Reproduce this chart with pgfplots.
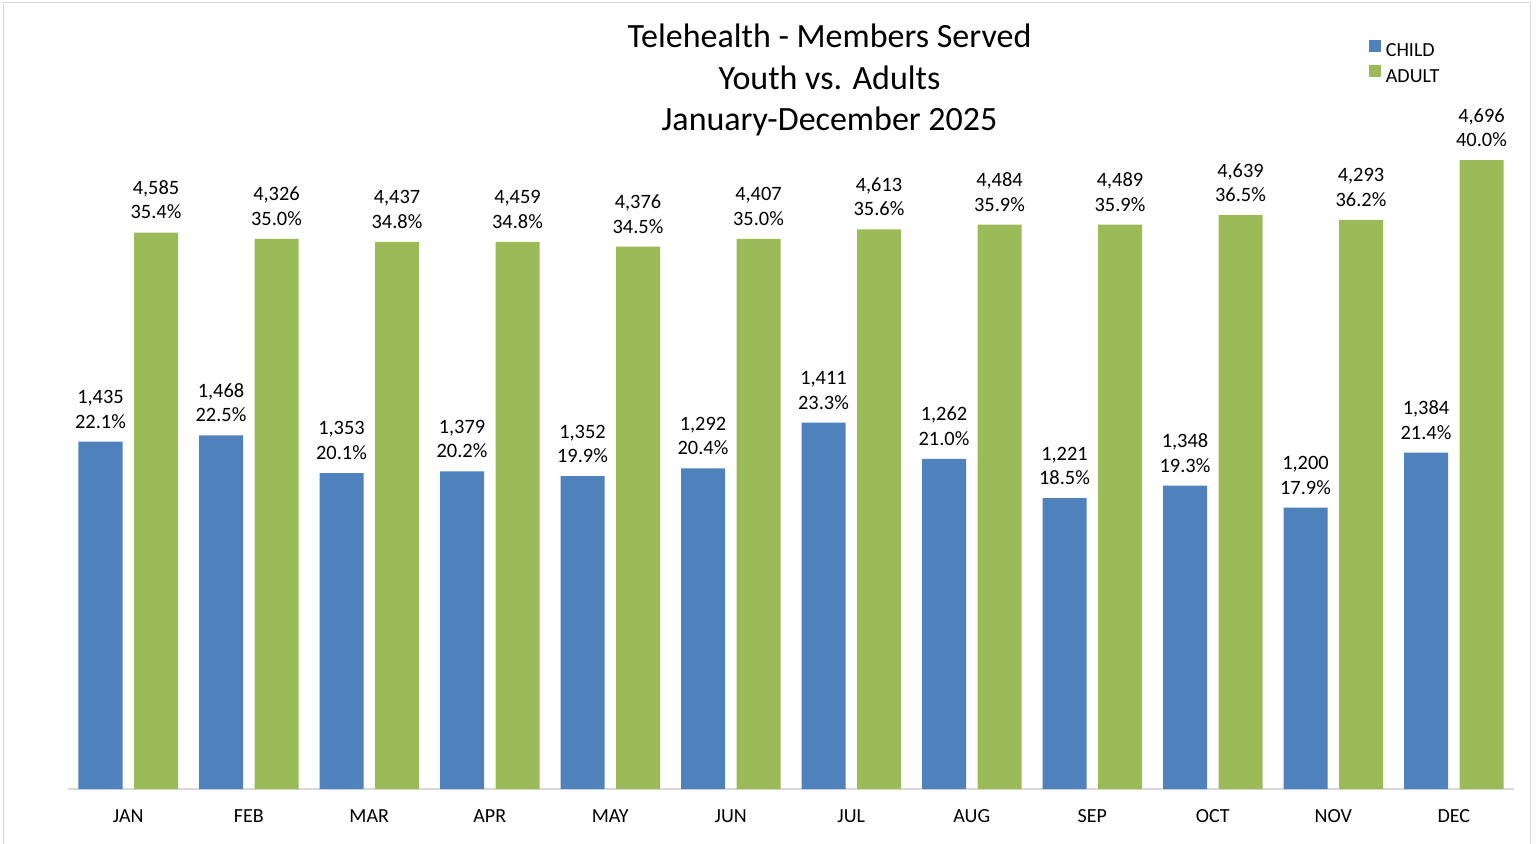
\documentclass[border=0pt]{standalone}
\usepackage{pgfplots}
\pgfplotsset{compat=1.18}
\usepackage{pgfplotstable}
\usepackage{fontspec}
\setmainfont{Carlito}
\definecolor{childC}{RGB}{79,129,189}
\definecolor{adultC}{RGB}{155,187,89}
\definecolor{frameC}{RGB}{217,217,217}
\pgfplotstableread{
x child cc adult ac
0 22.1 1435 35.4 4585
1 22.5 1468 35.0 4326
2 20.1 1353 34.8 4437
3 20.2 1379 34.8 4459
4 19.9 1352 34.5 4376
5 20.4 1292 35.0 4407
6 23.3 1411 35.6 4613
7 21.0 1262 35.9 4484
8 18.5 1221 35.9 4489
9 19.3 1348 36.5 4639
10 17.9 1200 36.2 4293
11 21.4 1384 40.0 4696
}\data
\begin{document}
\begin{tikzpicture}
\begin{axis}[
  at={(0,0)}, anchor=south west,
  scale only axis, width=723pt, height=345.85pt,
  xmin=-0.5, xmax=11.5, ymin=0, ymax=44,
  ybar=5.75pt, bar width=22pt,
  axis y line=none, axis x line*=bottom,
  x axis line style={draw=frameC, line width=0.6pt, -},
  xtick={0,...,11},
  xticklabels={JAN,FEB,MAR,APR,MAY,JUN,JUL,AUG,SEP,OCT,NOV,DEC},
  major tick length=0pt, tick style={draw=none},
  xticklabel style={font=\fontsize{10}{12}\selectfont, yshift=-6.8pt},
  clip=false,
  /pgf/number format/assume math mode=true,
  nodes near coords={\pgfmathprintnumber[fixed,precision=0,1000 sep={,}]{\cnt}\\\pgfmathprintnumber[fixed,fixed zerofill,precision=1]{\pgfplotspointmeta}\%},
  nodes near coords style={font=\fontsize{10.2}{12.25}\selectfont, align=center, inner sep=0pt, anchor=south, yshift=6.5pt, text=black},
  point meta=y,
  legend image code/.code={\fill[#1] (0pt,0pt) rectangle (6pt,6pt); \path (8.5pt,0pt);},
  legend style={at={(axis description cs:0.8952,1.0895)}, anchor=north west, draw=none, fill=none,
    font=\fontsize{10}{12}\selectfont, nodes={inner sep=0pt}, row sep=2.8pt},
  legend cell align=left,
]
\addplot[fill=childC, draw=none, visualization depends on={\thisrow{cc}\as\cnt}] table[x=x, y=child] {\data};
\addlegendentry{CHILD}
\addplot[fill=adultC, draw=none, visualization depends on={\thisrow{ac}\as\cnt}] table[x=x, y=adult] {\data};
\addlegendentry{ADULT}
\end{axis}
\begin{scope}[font=\fontsize{17}{20}\selectfont]
\node[anchor=base] at (380.75pt,370.5pt) {Telehealth - Members Served};
\node[anchor=base] at (380.75pt,349.8pt) {Youth vs. Adults};
\node[anchor=base] at (380.75pt,329.1pt) {January-December 2025};
\end{scope}
\draw[frameC, line width=0.6pt] (-32.3pt,-40pt) -- (-32.3pt,393.4pt) -- (731.3pt,393.4pt) -- (731.3pt,-40pt);
\pgfresetboundingbox
\path[use as bounding box] (-34pt,-27pt) rectangle (735pt,394.5pt);
\end{tikzpicture}
\end{document}
